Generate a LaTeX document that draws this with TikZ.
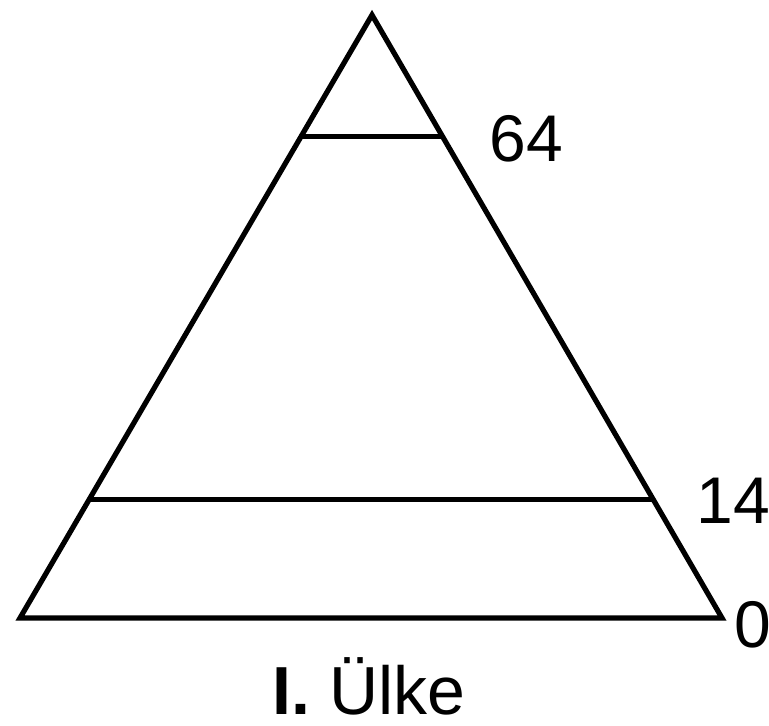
\documentclass[tikz,border=0pt]{standalone}
\usepackage{fontspec}
\setmainfont{Liberation Sans}
\usetikzlibrary{positioning,calc}

\begin{document}
\begin{tikzpicture}[
      x=0.5pt, y=-0.5pt,
      edge/.style={line width=2.6pt, color=black},
      lbl/.style={font=\fontsize{33}{36}\selectfont, inner sep=0pt, anchor=west},
      title/.style={font=\fontsize{34}{38}\selectfont, inner sep=0pt}
    ]
      \useasboundingbox (0,0) rectangle (769,726);
      \coordinate (top) at (372,15);
      \coordinate (bl)  at (20,618);
      \coordinate (br)  at (722,618);
      % levels
      \coordinate (l64) at ($(top)!0.202!(bl)$);
      \coordinate (r64) at ($(top)!0.202!(br)$);
      \coordinate (l14) at ($(top)!0.804!(bl)$);
      \coordinate (r14) at ($(top)!0.804!(br)$);
      \draw[edge] (top) -- (br) -- (bl) -- cycle;
      \draw[edge] (l64) -- (r64);
      \draw[edge] (l14) -- (r14);
      \node[lbl] (n64) at (489,139) {64};
      \node[lbl] (n14) at (696,501) {14};
      \node[lbl] (n0)  at (734,625) {0};
      \node[title] (cap) at (369,686) {\textbf{I.} Ülke};
    \end{tikzpicture}
\end{document}
